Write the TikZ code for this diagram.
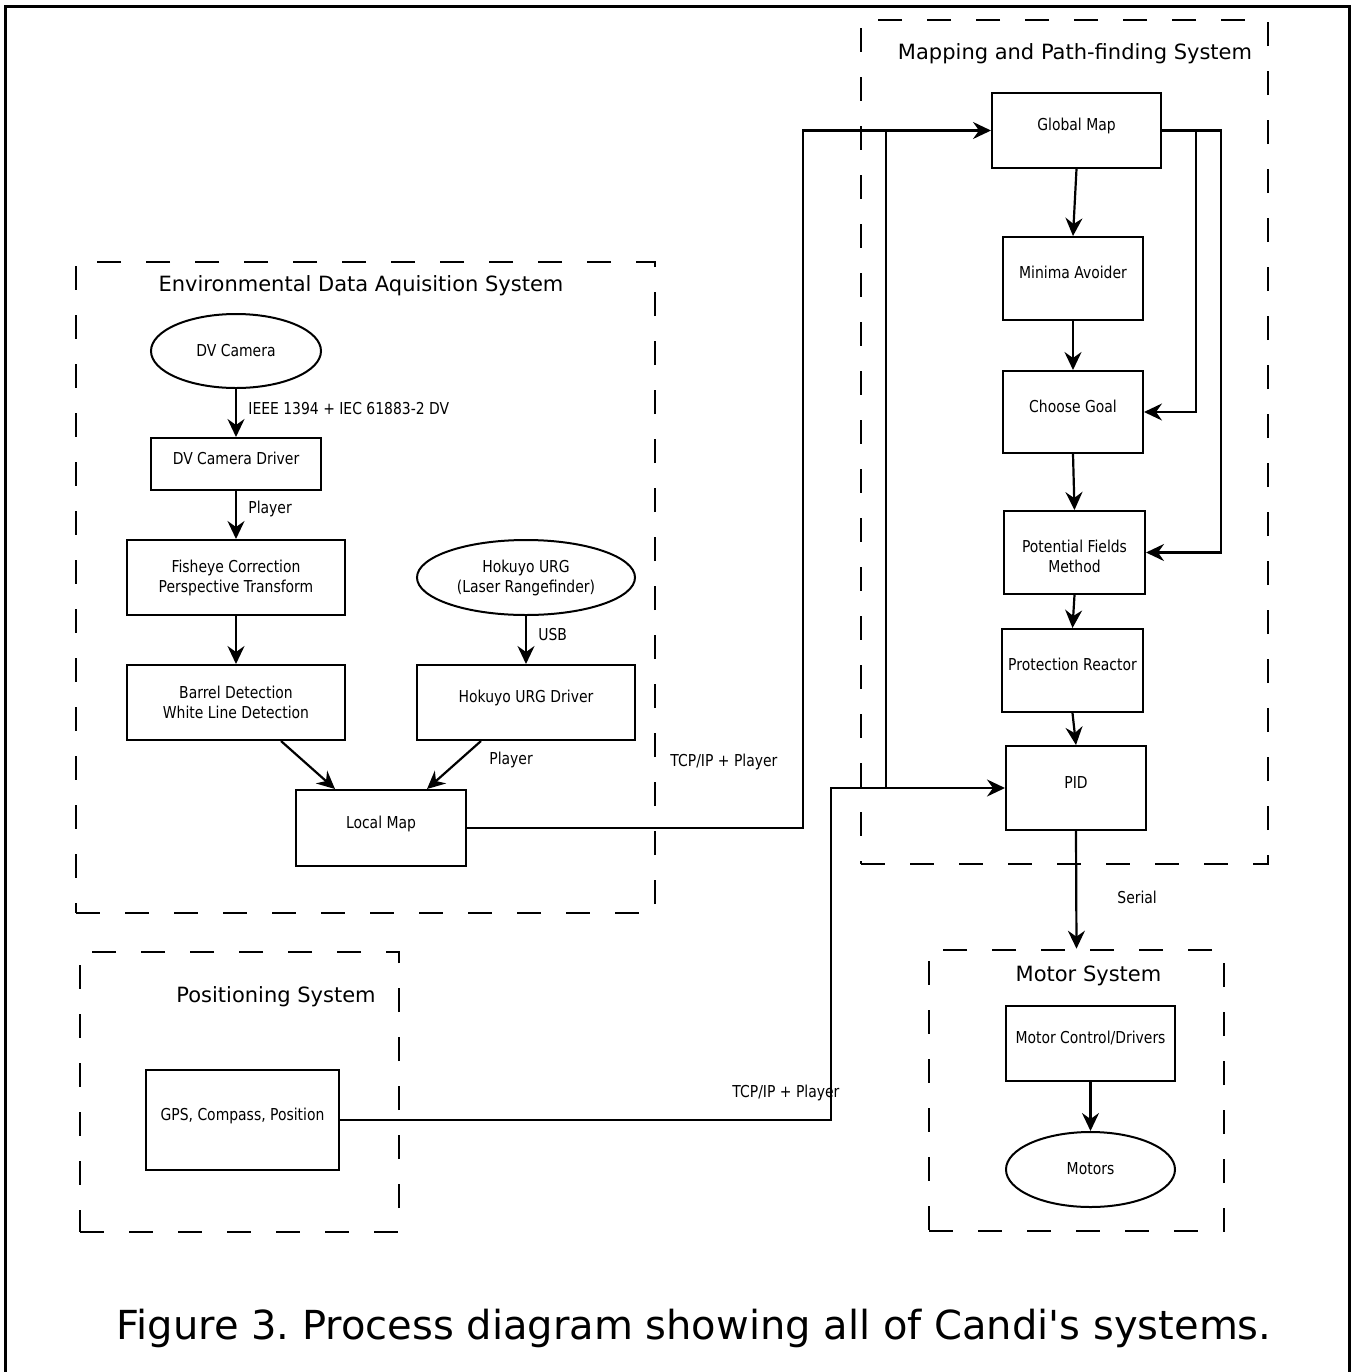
\documentclass[tikz,border=0pt]{standalone}
\usepackage{fontspec}
\setmainfont{DejaVu Sans}
\newfontfamily\condf[FakeStretch=0.85]{DejaVu Sans}
\newfontfamily\capf[Ligatures=TeXOff]{DejaVu Sans}
\usetikzlibrary{arrows.meta,shapes.geometric}
\frenchspacing
\begin{document}
\begin{tikzpicture}[x=0.5pt,y=-0.5pt,
  sz/.style 2 args={minimum width=#1*0.5pt, minimum height=#2*0.5pt},
  box/.style={draw, line width=1pt, rectangle, inner sep=0pt, font=\condf\fontsize{8.2}{10}\selectfont},
  oval/.style={draw, line width=1pt, ellipse, inner sep=0pt, align=center, font=\condf\fontsize{8.2}{10}\selectfont},
  group/.style={draw, line width=1.3pt, dash pattern=on 12pt off 12.5pt, rectangle, inner sep=0pt},
  gtitle/.style={font=\fontsize{10.5}{12}\selectfont, inner sep=0pt},
  lbl/.style={font=\condf\fontsize{8.2}{10}\selectfont, anchor=west, inner sep=0pt},
  arr/.style={line width=1.1pt, -{Stealth[length=9pt,width=8.5pt,inset=3pt]}},
  conn/.style={line width=1.1pt}
]
\useasboundingbox (0,0) rectangle (1353,1372);
% outer frame
\draw[line width=1.5pt] (5,1380) -- (5,6) -- (1349,6) -- (1349,1380);

% groups
\node[group, sz={579}{651}] (env) at (365.5,587.5) {};
\node[group, sz={407}{844}] (map) at (1064.5,442) {};
\node[group, sz={319}{280}] (pos) at (239.5,1092) {};
\node[group, sz={295}{281}] (mot) at (1076.5,1090.5) {};

\node[gtitle] (envt) at (361,286) {Environmental Data Aquisition System};
\node[gtitle] (mapt) at (1075,54) {Mapping and Path-finding System};
\node[gtitle] (post) at (276,997) {Positioning System};
\node[gtitle] (mott) at (1088.5,976) {Motor System};

% environmental nodes
\node[oval, sz={170}{74}] (cam) at (236,351) {\raisebox{1pt}{DV Camera}};
\node[box, sz={170}{52}] (dvd) at (236,464) {\smash{DV Camera Driver}};
\node[box, sz={218}{75}, align=center] (fish) at (236,577.5) {Fisheye Correction\\Perspective Transform};
\node[oval, sz={218}{75}] (hok) at (526,577.5) {Hokuyo URG\\(Laser Rangefinder)};
\node[box, sz={218}{75}, align=center] (bd) at (236,702.5) {Barrel Detection\\White Line Detection};
\node[box, sz={218}{75}] (hokd) at (526,702.5) {\smash{Hokuyo URG Driver}};
\node[box, sz={170}{76}] (lm) at (381,828) {\smash{Local Map}};

% mapping nodes
\node[box, sz={169}{75}] (gm) at (1076.5,130.5) {\smash{Global Map}};
\node[box, sz={140}{83}] (ma) at (1073,278.5) {\smash{Minima Avoider}};
\node[box, sz={140}{82}] (cg) at (1073,412) {\smash{Choose Goal}};
\node[box, sz={141}{83}] (pf) at (1074.5,552.5) {\raisebox{-5pt}[0pt][0pt]{\begin{tabular}{@{}c@{}}Potential Fields\\Method\end{tabular}}};
\node[box, sz={141}{83}] (pr) at (1072.5,670.5) {\smash{Protection Reactor}};
\node[box, sz={140}{84}] (pid) at (1076,788) {\smash{PID}};

% motor nodes
\node[box, sz={169}{75}] (mcd) at (1090.5,1043.5) {\smash{Motor Control/Drivers}};
\node[oval, sz={169}{75}] (mtr) at (1090.5,1169.5) {\raisebox{1pt}{Motors}};

% positioning node
\node[box, sz={193}{100}] (gps) at (242.5,1120) {\smash{GPS, Compass, Position}};

% connectors
\draw[arr] (cam) -- (dvd);
\draw[arr] (dvd) -- (fish);
\draw[arr] (fish) -- (bd);
\draw[arr] (hok) -- (hokd);
\draw[arr] ([xshift=22.5pt]bd.south) -- ([xshift=-23pt]lm.north);
\draw[arr] ([xshift=-22.5pt]hokd.south) -- ([xshift=23pt]lm.north);
\coordinate (j1) at (803,130.5);
\draw[arr] (lm.east) -| (j1) -- (gm.west);
\draw[arr] (gm.south) -- (ma.north);
\draw[arr] (ma) -- (cg);
\draw[arr] (cg.south) -- (pf.north);
\draw[arr] (pf.south) -- (pr.north);
\draw[arr] (pr.south) -- (pid.north);
\draw[arr] (gm.east) -- ++(34,0) |- (cg.east);
\draw[arr] (gm.east) -- ++(59,0) |- (pf.east);
\coordinate (j2) at (831,788);
\draw[arr] (gps.east) -| (j2) -- (pid.west);
\coordinate (j3) at (886,130.5);
\coordinate (j4) at (886,788);
\draw[conn] (j4) -- (j3);
\draw[arr] (pid.south) -- (mot.north);
\draw[arr] (mcd) -- (mtr);

% connector labels
\node[lbl] (l1) at (248,409) {IEEE 1394 + IEC 61883-2 DV};
\node[lbl] (l2) at (248,509) {Player};
\node[lbl] (l3) at (538,635) {USB};
\node[lbl] (l4) at (489,760) {Player};
\node[lbl] (l5) at (670,762) {TCP/IP + Player};
\node[lbl] (l6) at (732,1093) {TCP/IP + Player};
\node[lbl] (l7) at (1117,897) {Serial};

% caption
\node[font=\capf\fontsize{20}{24}\selectfont, anchor=base, inner sep=0pt] (cap) at (694,1339) {Figure 3. Process diagram showing all of Candi's systems.};
\end{tikzpicture}
\end{document}
